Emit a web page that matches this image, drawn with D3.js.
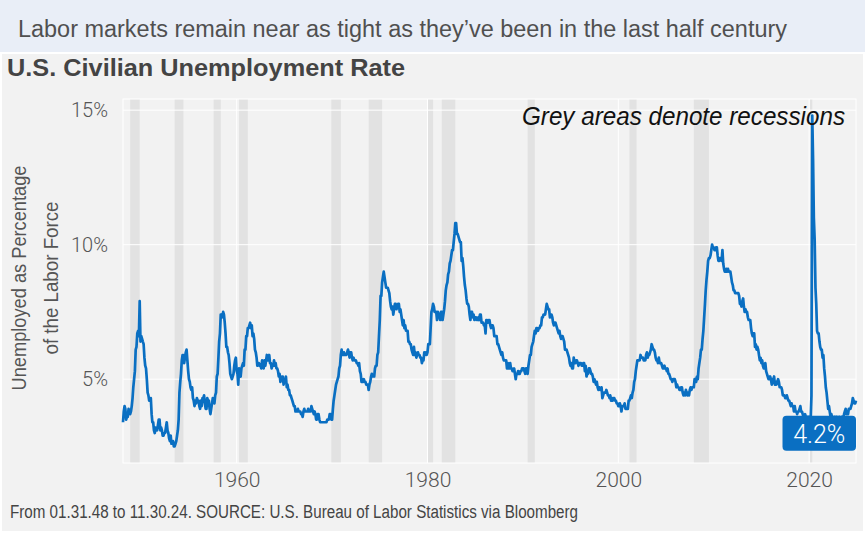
<!DOCTYPE html>
<html>
<head>
<meta charset="utf-8">
<script src="https://cdn.jsdelivr.net/npm/d3@7"></script>
<style>
  body { margin: 0; background: #fff; }
  svg { display: block; }
</style>
</head>
<body>
<svg id="chart" width="865" height="534"></svg>
<script>
// monthly U.S. civilian unemployment rate, Jan 1948 .. Nov 2024 (%)
const unrate = [
  3.4, 3.8, 4.0, 3.9, 3.5, 3.6, 3.6, 3.9, 3.8, 3.7, 3.8, 4.0, // 1948
  4.3, 4.7, 5.0, 5.3, 6.1, 6.2, 6.7, 6.8, 6.6, 7.9, 6.4, 6.6, // 1949
  6.5, 6.4, 6.3, 5.8, 5.5, 5.4, 5.0, 4.5, 4.4, 4.2, 4.2, 4.3,
  3.7, 3.4, 3.4, 3.1, 3.0, 3.2, 3.1, 3.1, 3.3, 3.5, 3.5, 3.1,
  3.2, 3.1, 2.9, 2.9, 3.0, 3.0, 3.2, 3.4, 3.1, 3.0, 2.8, 2.7,
  2.9, 2.6, 2.6, 2.7, 2.5, 2.5, 2.6, 2.7, 2.9, 3.1, 3.5, 4.5, // 1953
  4.9, 5.2, 5.7, 5.9, 5.9, 5.6, 5.8, 6.0, 6.1, 5.7, 5.3, 5.0,
  4.9, 4.7, 4.6, 4.7, 4.3, 4.2, 4.0, 4.2, 4.1, 4.3, 4.2, 4.2,
  4.0, 3.9, 4.2, 4.0, 4.3, 4.3, 4.4, 4.1, 3.9, 3.9, 4.3, 4.2,
  4.2, 3.9, 3.7, 3.9, 4.1, 4.3, 4.2, 4.1, 4.4, 4.5, 5.1, 5.2,
  5.8, 6.4, 6.7, 7.4, 7.4, 7.3, 7.5, 7.4, 7.1, 6.7, 6.2, 6.2, // 1958
  6.0, 5.9, 5.6, 5.2, 5.1, 5.0, 5.1, 5.2, 5.5, 5.7, 5.8, 5.3,
  5.2, 4.8, 5.4, 5.2, 5.1, 5.4, 5.5, 5.6, 5.5, 6.1, 6.1, 6.6, // 1960
  6.6, 6.9, 6.9, 7.0, 7.1, 6.9, 7.0, 6.6, 6.7, 6.5, 6.1, 6.0,
  5.8, 5.5, 5.6, 5.6, 5.5, 5.5, 5.4, 5.7, 5.6, 5.4, 5.7, 5.5,
  5.7, 5.9, 5.7, 5.7, 5.9, 5.6, 5.6, 5.4, 5.5, 5.5, 5.7, 5.5,
  5.6, 5.4, 5.4, 5.3, 5.1, 5.2, 4.9, 5.0, 5.1, 5.1, 4.8, 5.0,
  4.9, 5.1, 4.7, 4.8, 4.6, 4.6, 4.4, 4.4, 4.3, 4.2, 4.1, 4.0, // 1965
  4.0, 3.8, 3.8, 3.8, 3.9, 3.8, 3.8, 3.8, 3.7, 3.7, 3.6, 3.8,
  3.9, 3.8, 3.8, 3.8, 3.8, 3.9, 3.8, 3.8, 3.8, 4.0, 3.9, 3.8,
  3.7, 3.8, 3.7, 3.5, 3.5, 3.7, 3.7, 3.5, 3.4, 3.4, 3.4, 3.4,
  3.4, 3.4, 3.4, 3.4, 3.4, 3.5, 3.5, 3.5, 3.7, 3.7, 3.5, 3.5,
  3.9, 4.2, 4.4, 4.6, 4.8, 4.9, 5.0, 5.1, 5.4, 5.5, 5.9, 6.1, // 1970
  5.9, 5.9, 6.0, 5.9, 5.9, 5.9, 6.0, 6.1, 6.0, 5.8, 6.0, 6.0,
  5.8, 5.7, 5.8, 5.7, 5.7, 5.7, 5.6, 5.6, 5.5, 5.6, 5.3, 5.2,
  4.9, 5.0, 4.9, 5.0, 4.9, 4.9, 4.8, 4.8, 4.8, 4.6, 4.8, 4.9,
  5.1, 5.2, 5.1, 5.1, 5.1, 5.4, 5.5, 5.5, 5.9, 6.0, 6.6, 7.2,
  8.1, 8.1, 8.6, 8.8, 9.0, 8.8, 8.6, 8.4, 8.4, 8.4, 8.3, 8.2, // 1975
  7.9, 7.7, 7.6, 7.7, 7.4, 7.6, 7.8, 7.8, 7.6, 7.7, 7.8, 7.8,
  7.5, 7.6, 7.4, 7.2, 7.0, 7.2, 6.9, 7.0, 6.8, 6.8, 6.8, 6.4,
  6.4, 6.3, 6.3, 6.1, 6.0, 5.9, 6.2, 5.9, 6.0, 5.8, 5.9, 6.0,
  5.9, 5.9, 5.8, 5.8, 5.6, 5.7, 5.7, 6.0, 5.9, 6.0, 5.9, 6.0,
  6.3, 6.3, 6.3, 6.9, 7.5, 7.6, 7.8, 7.7, 7.5, 7.5, 7.5, 7.2, // 1980
  7.5, 7.4, 7.4, 7.2, 7.5, 7.5, 7.2, 7.4, 7.6, 7.9, 8.3, 8.5,
  8.6, 8.9, 9.0, 9.3, 9.4, 9.6, 9.8, 9.8, 10.1, 10.4, 10.8, 10.8,
  10.4, 10.4, 10.3, 10.2, 10.1, 10.1, 9.4, 9.5, 9.2, 8.8, 8.5, 8.3,
  8.0, 7.8, 7.8, 7.7, 7.4, 7.2, 7.5, 7.5, 7.3, 7.4, 7.2, 7.3,
  7.3, 7.2, 7.2, 7.3, 7.2, 7.4, 7.4, 7.1, 7.1, 7.1, 7.0, 7.0, // 1985
  6.7, 7.2, 7.2, 7.1, 7.2, 7.2, 7.0, 6.9, 7.0, 7.0, 6.9, 6.6,
  6.6, 6.6, 6.6, 6.3, 6.3, 6.2, 6.1, 6.0, 5.9, 6.0, 5.8, 5.7,
  5.7, 5.7, 5.7, 5.4, 5.6, 5.4, 5.4, 5.6, 5.4, 5.4, 5.3, 5.3,
  5.4, 5.2, 5.0, 5.2, 5.2, 5.3, 5.2, 5.2, 5.3, 5.3, 5.4, 5.4,
  5.4, 5.3, 5.2, 5.4, 5.4, 5.2, 5.5, 5.7, 5.9, 5.9, 6.2, 6.3, // 1990
  6.4, 6.6, 6.8, 6.7, 6.9, 6.9, 6.8, 6.9, 6.9, 7.0, 7.0, 7.3,
  7.3, 7.4, 7.4, 7.4, 7.6, 7.8, 7.7, 7.6, 7.6, 7.3, 7.4, 7.4,
  7.3, 7.1, 7.0, 7.1, 7.1, 7.0, 6.9, 6.8, 6.7, 6.8, 6.6, 6.5,
  6.6, 6.6, 6.5, 6.4, 6.1, 6.1, 6.1, 6.0, 5.9, 5.8, 5.6, 5.5,
  5.6, 5.4, 5.4, 5.8, 5.6, 5.6, 5.7, 5.7, 5.6, 5.5, 5.6, 5.6, // 1995
  5.6, 5.5, 5.5, 5.6, 5.6, 5.3, 5.5, 5.1, 5.2, 5.2, 5.4, 5.4,
  5.3, 5.2, 5.2, 5.1, 4.9, 5.0, 4.9, 4.8, 4.9, 4.7, 4.6, 4.7,
  4.6, 4.6, 4.7, 4.3, 4.4, 4.5, 4.5, 4.5, 4.6, 4.5, 4.4, 4.4,
  4.3, 4.4, 4.2, 4.3, 4.2, 4.3, 4.3, 4.2, 4.2, 4.1, 4.1, 4.0,
  4.0, 4.1, 4.0, 3.8, 4.0, 4.0, 4.0, 4.1, 3.9, 3.9, 3.9, 3.9, // 2000
  4.2, 4.2, 4.3, 4.4, 4.3, 4.5, 4.6, 4.9, 5.0, 5.3, 5.5, 5.7,
  5.7, 5.7, 5.7, 5.9, 5.8, 5.8, 5.8, 5.7, 5.7, 5.7, 5.9, 6.0,
  5.8, 5.9, 5.9, 6.0, 6.1, 6.3, 6.2, 6.1, 6.1, 6.0, 5.8, 5.7,
  5.7, 5.6, 5.8, 5.6, 5.6, 5.6, 5.5, 5.4, 5.4, 5.5, 5.4, 5.4,
  5.3, 5.4, 5.2, 5.2, 5.1, 5.0, 5.0, 4.9, 5.0, 5.0, 5.0, 4.9, // 2005
  4.7, 4.8, 4.7, 4.7, 4.6, 4.6, 4.7, 4.7, 4.5, 4.4, 4.5, 4.4,
  4.6, 4.5, 4.4, 4.5, 4.4, 4.6, 4.7, 4.6, 4.7, 4.7, 4.7, 5.0,
  5.0, 4.9, 5.1, 5.0, 5.4, 5.6, 5.8, 6.1, 6.1, 6.5, 6.8, 7.3,
  7.8, 8.3, 8.7, 9.0, 9.4, 9.5, 9.5, 9.6, 9.8, 10.0, 9.9, 9.9,
  9.8, 9.8, 9.9, 9.9, 9.6, 9.4, 9.4, 9.5, 9.5, 9.4, 9.8, 9.3, // 2010
  9.1, 9.0, 9.0, 9.1, 9.0, 9.1, 9.0, 9.0, 9.0, 8.8, 8.6, 8.5,
  8.3, 8.3, 8.2, 8.2, 8.2, 8.2, 8.2, 8.1, 7.8, 7.8, 7.7, 7.9,
  8.0, 7.7, 7.5, 7.6, 7.5, 7.5, 7.3, 7.2, 7.2, 7.2, 6.9, 6.7,
  6.6, 6.7, 6.7, 6.2, 6.3, 6.1, 6.2, 6.1, 5.9, 5.7, 5.8, 5.6,
  5.7, 5.5, 5.4, 5.4, 5.6, 5.3, 5.2, 5.1, 5.0, 5.0, 5.1, 5.0, // 2015
  4.8, 4.9, 5.0, 5.1, 4.8, 4.9, 4.8, 4.9, 5.0, 4.9, 4.7, 4.7,
  4.7, 4.6, 4.4, 4.4, 4.4, 4.3, 4.3, 4.4, 4.3, 4.2, 4.2, 4.1,
  4.0, 4.1, 4.0, 4.0, 3.8, 4.0, 3.8, 3.8, 3.7, 3.8, 3.8, 3.9,
  4.0, 3.8, 3.8, 3.7, 3.6, 3.6, 3.7, 3.6, 3.5, 3.6, 3.6, 3.6,
  3.5, 3.5, 4.4, 14.8, 13.2, 11.0, 10.2, 8.4, 7.8, 6.8, 6.7, 6.7, // 2020
  6.4, 6.2, 6.1, 6.1, 5.8, 5.9, 5.4, 5.1, 4.7, 4.5, 4.2, 3.9,
  4.0, 3.8, 3.6, 3.7, 3.6, 3.6, 3.5, 3.6, 3.5, 3.6, 3.6, 3.5,
  3.4, 3.6, 3.5, 3.4, 3.6, 3.6, 3.5, 3.7, 3.8, 3.9, 3.7, 3.8,
  3.7, 3.9, 3.9, 3.9, 4.0, 4.1, 4.3, 4.2, 4.1, 4.1, 4.2        // 2024
];
const firstYear = 1948;

// NBER recessions, peak month to trough month
const recessions = [
  ["1948-11", "1949-10"], ["1953-07", "1954-05"], ["1957-08", "1958-04"],
  ["1960-04", "1961-02"], ["1969-12", "1970-11"], ["1973-11", "1975-03"],
  ["1980-01", "1980-07"], ["1981-07", "1982-11"], ["1990-07", "1991-03"],
  ["2001-03", "2001-11"], ["2007-12", "2009-06"], ["2020-02", "2020-04"]
];

const yTicks = [5, 10, 15];
const xTickYears = [1960, 1980, 2000, 2020];

const subtitle = "Labor markets remain near as tight as they\u2019ve been in the last half century";
const title = "U.S. Civilian Unemployment Rate";
const yTitle = ["Unemployed as Percentage", "of the Labor Force"];
const note = "Grey areas denote recessions";
const footer = "From 01.31.48 to 11.30.24. SOURCE: U.S. Bureau of Labor Statistics via Bloomberg";

const Colors = {
  banner: "#e9eef7",
  panel: "#f2f2f2",
  band: "#e2e2e2",
  grid: "#ffffff",
  line: "#0a6fc2",
  text: "#555555",
  dark: "#444444"
};
const sans = "'Liberation Sans', Arial, sans-serif";
const light = "Roboto, 'Liberation Sans', sans-serif";

const svg = d3.select("#chart");
const plot = { left: 123, right: 856, top: 99, bottom: 463 };

// squeeze a text to a given width so a regular face reads like a narrow one
function fitText(sel, width) {
  return sel.attr("textLength", width).attr("lengthAdjust", "spacingAndGlyphs");
}

// month-end dates for each value
const data = unrate.map((v, i) => ({
  date: new Date(firstYear, i + 1, 0),
  value: v
}));

const x = d3.scaleTime()
  .domain(d3.extent(data, d => d.date))
  .range([plot.left, plot.right]);

const [lo, hi] = d3.extent(data, d => d.value);
const pad = (hi - lo) * 0.05;
const y = d3.scaleLinear()
  .domain([lo - pad, hi + pad])
  .range([plot.bottom, plot.top]);

// backgrounds
svg.append("rect")
  .attr("x", 0).attr("y", 0)
  .attr("width", 865).attr("height", 52)
  .attr("fill", Colors.banner);

svg.append("rect")
  .attr("x", 2).attr("y", 54)
  .attr("width", 861).attr("height", 477)
  .attr("fill", Colors.panel);

svg.append("text")
  .attr("x", 18).attr("y", 37)
  .attr("font-family", sans)
  .attr("font-size", 23)
  .attr("fill", "#505050")
  .text(subtitle)
  .call(fitText, 769);

svg.append("text")
  .attr("x", 7).attr("y", 76)
  .attr("font-family", sans)
  .attr("font-weight", "bold")
  .attr("font-size", 23)
  .attr("fill", Colors.dark)
  .text(title)
  .call(fitText, 398);

// recession bands
const parseMonth = d3.timeParse("%Y-%m");
svg.append("g")
  .selectAll("rect")
  .data(recessions)
  .join("rect")
  .attr("x", d => x(parseMonth(d[0])))
  .attr("y", plot.top)
  .attr("width", d => {
    const end = d3.timeMonth.offset(parseMonth(d[1]), 1);
    return Math.max(2, x(end) - x(parseMonth(d[0])));
  })
  .attr("height", plot.bottom - plot.top)
  .attr("fill", Colors.band);

// grid lines
const xTickDates = xTickYears.map(yr => new Date(yr, 0, 1));
svg.append("g")
  .selectAll("line")
  .data(yTicks)
  .join("line")
  .attr("x1", plot.left).attr("x2", plot.right)
  .attr("y1", d => y(d)).attr("y2", d => y(d))
  .attr("stroke", Colors.grid)
  .attr("stroke-width", 1);

svg.append("g")
  .selectAll("line")
  .data(xTickDates)
  .join("line")
  .attr("x1", d => x(d)).attr("x2", d => x(d))
  .attr("y1", plot.top).attr("y2", plot.bottom)
  .attr("stroke", Colors.grid)
  .attr("stroke-width", 1);

// panel border
svg.append("rect")
  .attr("x", plot.left).attr("y", plot.top)
  .attr("width", plot.right - plot.left)
  .attr("height", plot.bottom - plot.top)
  .attr("fill", "none")
  .attr("stroke", Colors.grid)
  .attr("stroke-width", 1);

// axes
const yAxis = d3.axisLeft(y)
  .tickValues(yTicks)
  .tickSize(0)
  .tickPadding(15)
  .tickFormat(d => d + "%");

const yAxisGroup = svg.append("g")
  .attr("transform", `translate(${plot.left},0)`)
  .call(yAxis);

yAxisGroup.selectAll("text")
  .attr("font-family", light)
  .attr("font-weight", 300)
  .attr("font-size", 20)
  .attr("fill", Colors.text);

const xAxis = d3.axisBottom(x)
  .tickValues(xTickDates)
  .tickSize(0)
  .tickPadding(9)
  .tickFormat(d3.timeFormat("%Y"));

const xAxisGroup = svg.append("g")
  .attr("transform", `translate(0,${plot.bottom})`)
  .call(xAxis);

xAxisGroup.selectAll("text")
  .attr("font-family", light)
  .attr("font-weight", 300)
  .attr("font-size", 21)
  .attr("fill", Colors.text);

svg.selectAll(".domain").remove();

// y axis title, two lines
const yTitleWidths = [225, 153];
const midY = (plot.top + plot.bottom) / 2 - 3;
svg.append("g")
  .selectAll("text")
  .data(yTitle)
  .join("text")
  .attr("transform", (d, i) => `translate(${25.5 + i * 32},${midY}) rotate(-90)`)
  .attr("text-anchor", "middle")
  .attr("font-family", sans)
  .attr("font-size", 21)
  .attr("fill", Colors.text)
  .attr("textLength", (d, i) => yTitleWidths[i])
  .attr("lengthAdjust", "spacingAndGlyphs")
  .text(d => d);

// the series
const line = d3.line()
  .x(d => x(d.date))
  .y(d => y(d.value));

svg.append("path")
  .datum(data)
  .attr("d", line)
  .attr("fill", "none")
  .attr("stroke", Colors.line)
  .attr("stroke-width", 2.7)
  .attr("stroke-linejoin", "round");

// note
svg.append("text")
  .attr("x", 845).attr("y", 125)
  .attr("text-anchor", "end")
  .attr("font-family", sans)
  .attr("font-style", "italic")
  .attr("font-size", 25)
  .attr("fill", "#111")
  .text(note)
  .call(fitText, 323);

// last value label
const last = data[data.length - 1];
const boxW = 73.5, boxH = 35;
const lx = x(last.date), ly = y(last.value);
const label = svg.append("g")
  .attr("transform", `translate(${lx - boxW},${ly + 15})`);

label.append("rect")
  .attr("width", boxW).attr("height", boxH)
  .attr("rx", 4)
  .attr("fill", Colors.line);

label.append("text")
  .attr("x", boxW / 2).attr("y", 27)
  .attr("text-anchor", "middle")
  .attr("font-family", light)
  .attr("font-weight", 300)
  .attr("font-size", 25)
  .attr("fill", "#fff")
  .text(last.value.toFixed(1) + "%");

// footer
svg.append("text")
  .attr("x", 10).attr("y", 518)
  .attr("font-family", sans)
  .attr("font-size", 18)
  .attr("fill", Colors.dark)
  .text(footer)
  .call(fitText, 568);
</script>
</body>
</html>
